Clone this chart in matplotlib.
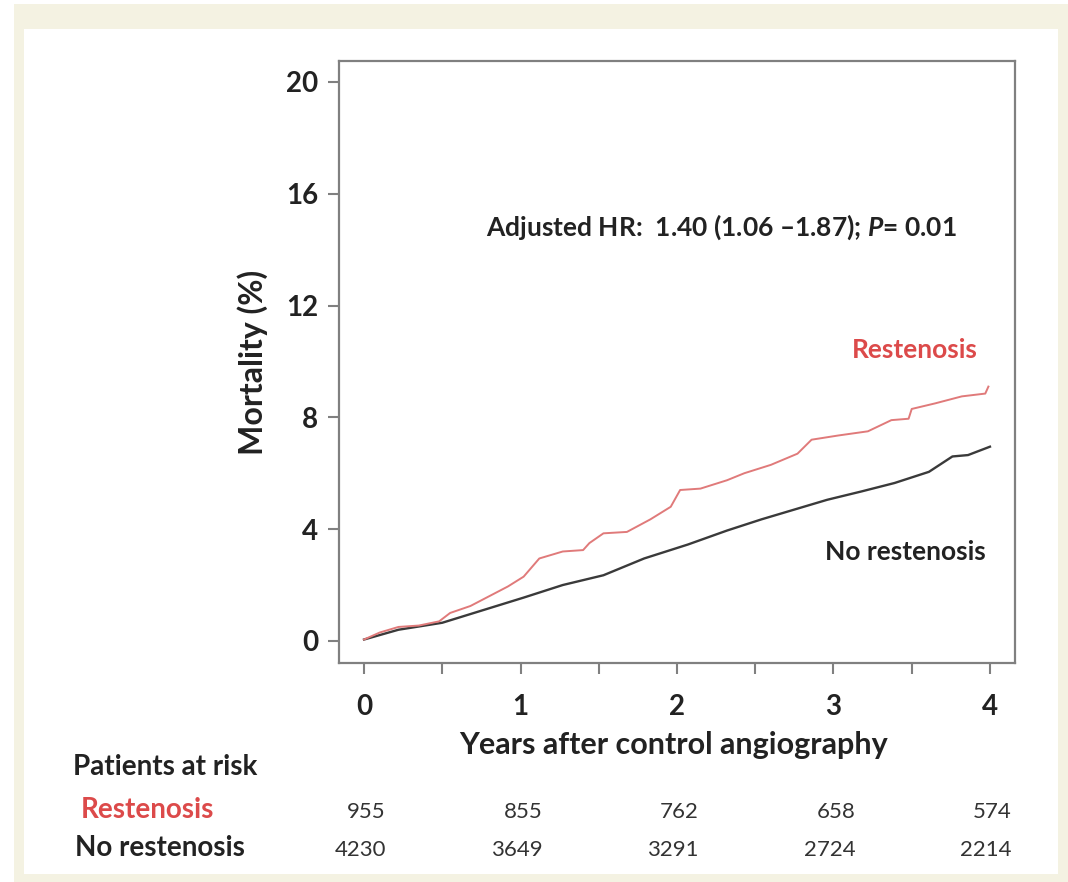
import matplotlib
matplotlib.use("Agg")
import matplotlib.pyplot as plt
from matplotlib.patches import Rectangle
from matplotlib.transforms import blended_transform_factory

plt.rcParams['font.family'] = ['Lato', 'DejaVu Sans']
plt.rcParams['mathtext.fontset'] = 'custom'
plt.rcParams['mathtext.it'] = 'Lato:italic:bold'
plt.rcParams['mathtext.rm'] = 'Lato:bold'

# Cumulative mortality (%) by years after control angiography
resten_years = [0.00, 0.10, 0.22, 0.35, 0.48, 0.55, 0.68, 0.80, 0.92, 1.02, 1.12, 1.27,
                1.40, 1.44, 1.53, 1.68, 1.83, 1.96, 2.02, 2.15, 2.32, 2.43, 2.60, 2.77,
                2.86, 3.03, 3.22, 3.37, 3.48, 3.50, 3.65, 3.82, 3.97, 3.99]
resten_mort = [0.05, 0.30, 0.50, 0.55, 0.70, 1.00, 1.25, 1.60, 1.95, 2.30, 2.95, 3.20,
               3.25, 3.50, 3.85, 3.90, 4.35, 4.80, 5.40, 5.45, 5.75, 6.00, 6.30, 6.70,
               7.20, 7.35, 7.50, 7.90, 7.95, 8.30, 8.50, 8.75, 8.85, 9.10]

norest_years = [0.00, 0.22, 0.50, 0.76, 1.02, 1.27, 1.53, 1.79, 2.07, 2.32, 2.54, 2.75,
                2.96, 3.18, 3.39, 3.61, 3.76, 3.86, 4.00]
norest_mort = [0.05, 0.40, 0.65, 1.10, 1.55, 2.00, 2.35, 2.95, 3.45, 3.95, 4.35, 4.70,
               5.05, 5.35, 5.65, 6.05, 6.60, 6.65, 6.95]

# Numbers at risk
risk_years = [0, 1, 2, 3, 4]
risk_resten = [955, 855, 762, 658, 574]
risk_norest = [4230, 3649, 3291, 2724, 2214]

y_ticks = [0, 4, 8, 12, 16, 20]
x_ticks = [0, 1, 2, 3, 4]

RED = '#dc4a4a'
LINE_RED = '#e07a7a'
DARK = '#222222'

W, H = 1068, 882
fig = plt.figure(figsize=(W / 100, H / 100), dpi=100, facecolor='white')

# beige page border
def px_rect(x0, y0, x1, y1, color):
    fig.patches.append(Rectangle((x0 / W, 1 - y1 / H), (x1 - x0) / W, (y1 - y0) / H,
                                 transform=fig.transFigure, facecolor=color,
                                 edgecolor='none', zorder=-10))

px_rect(14, 4, 1068, 882, '#f4f2e2')
px_rect(24, 29, 1058, 874, 'white')

ax = fig.add_axes([339 / W, 1 - 663 / H, 676 / W, 602 / H])
ax.set_zorder(2)
ax.set_xlim(-0.16, 4.16)
ax.set_ylim(-0.79, 20.75)

ax.plot(norest_years, norest_mort, color='#3a3a3a', lw=1.7, zorder=3)
ax.plot(resten_years, resten_mort, color=LINE_RED, lw=1.4, zorder=4)

for side in ['left', 'right', 'top', 'bottom']:
    ax.spines[side].set_color('#808080')
    ax.spines[side].set_linewidth(1.6)

ax.set_yticks(y_ticks)
ax.set_xticks(x_ticks)
ax.set_xticks([0.5, 1.5, 2.5, 3.5], minor=True)
ax.tick_params(axis='both', which='both', direction='out', color='#808080',
               width=1.5, length=8)
ax.tick_params(axis='y', pad=7, labelsize=20, labelcolor=DARK)
ax.tick_params(axis='x', pad=14, labelsize=20, labelcolor=DARK)
for lab in ax.get_xticklabels() + ax.get_yticklabels():
    lab.set_fontweight('bold')

ax.text(0.78, 14.81, 'Adjusted HR:  1.40 (1.06 \u20131.87); $P$= 0.01',
        fontsize=19, fontweight='bold', color=DARK, ha='left', va='center')
ax.text(3.92, 10.4, 'Restenosis', fontsize=19, fontweight='bold', color=RED,
        ha='right', va='center')
ax.text(3.97, 3.18, 'No restenosis', fontsize=19, fontweight='bold', color=DARK,
        ha='right', va='center')

fig.text(674 / W, 1 - 745 / H, 'Years after control angiography', fontsize=22,
         fontweight='bold', color=DARK, ha='center', va='center')
fig.text(253 / W, 1 - 362 / H, 'Mortality (%)', fontsize=23, fontweight='bold',
         color=DARK, ha='center', va='center', rotation=90)

# patients-at-risk table
fig.text(73 / W, 1 - 767 / H, 'Patients at risk', fontsize=20, fontweight='bold',
         color=DARK, ha='left', va='center')
fig.text(81 / W, 1 - 810 / H, 'Restenosis', fontsize=20, fontweight='bold',
         color=RED, ha='left', va='center')
fig.text(75 / W, 1 - 848 / H, 'No restenosis', fontsize=20, fontweight='bold',
         color=DARK, ha='left', va='center')

tr = blended_transform_factory(ax.transData, fig.transFigure)
for yr, a, b in zip(risk_years, risk_resten, risk_norest):
    ax.text(yr + 0.14, 1 - 812 / H, str(a), transform=tr, fontsize=16,
            color='#333333', ha='right', va='center', clip_on=False)
    ax.text(yr + 0.14, 1 - 850 / H, str(b), transform=tr, fontsize=16,
            color='#333333', ha='right', va='center', clip_on=False)

fig.savefig('out.png', dpi=100, facecolor=fig.get_facecolor())
